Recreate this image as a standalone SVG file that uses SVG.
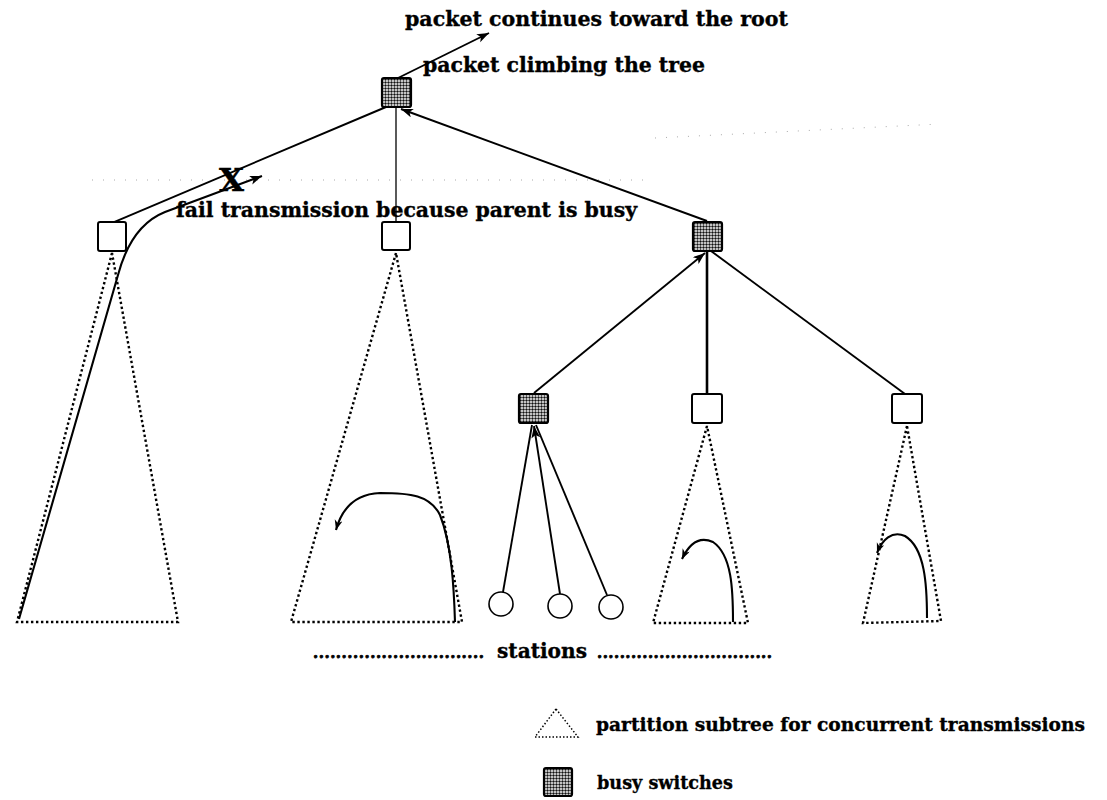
<svg xmlns="http://www.w3.org/2000/svg" width="1107" height="800" viewBox="0 0 1107 800">
  <defs>
    <!-- stippled fill used for busy switches -->
    <pattern id="stipple" width="3" height="3" patternUnits="userSpaceOnUse">
      <rect width="3" height="3" fill="#fff"/>
      <circle cx="1.5" cy="1.5" r="1.2" fill="#111"/>
    </pattern>
    <marker id="head" markerUnits="userSpaceOnUse" markerWidth="14" markerHeight="10" refX="12" refY="4.5" orient="auto">
      <path d="M0,0 L12,4.5 L0,9 L3,4.5 z" fill="#000"/>
    </marker>
    <marker id="headSmall" markerUnits="userSpaceOnUse" markerWidth="12" markerHeight="10" refX="10" refY="4" orient="auto">
      <path d="M0,0 L10,4 L0,8 L3,4 z" fill="#000"/>
    </marker>
  </defs>
  <style>
    .lbl { font-family: "DejaVu Serif", "Liberation Serif", serif; font-weight: bold; fill: #000; stroke: #000; stroke-width: 0.35; }
    .dots { font-family: "DejaVu Serif", "Liberation Serif", serif; font-weight: bold; fill: #000; stroke: #000; stroke-width: 0.8; }
    .sw { fill: #fff; stroke: #000; stroke-width: 2; }
    .busy { fill: url(#stipple); stroke: #000; stroke-width: 2.2; }
    .edge { fill: none; stroke: #000; stroke-width: 1.9; }
    .part { fill: none; stroke: #000; stroke-width: 2.4; stroke-dasharray: 2.4 2.6; }
    .flow { fill: none; stroke: #000; stroke-width: 2.1; }
    .station { fill: #fff; stroke: #000; stroke-width: 1.6; }
    .faint { fill: none; stroke: #aaa; stroke-width: 1; stroke-dasharray: 1 10; }
  </style>
  <rect width="1107" height="800" fill="#fff"/>

  <!-- faint dotted rules -->
  <g id="rules">
    <line class="faint" x1="92" y1="180" x2="650" y2="180"/>
    <line class="faint" x1="655" y1="138" x2="940" y2="124"/>
  </g>

  <!-- partition subtrees -->
  <g id="partitions">
    <polygon class="part" points="112,253 17,622 178,622"/>
    <polygon class="part" points="396,253 291,622 462,622"/>
    <polygon class="part" points="707,426 653,623 748,623"/>
    <polygon class="part" points="907,426 863,623 941,621"/>
  </g>

  <!-- connectors -->
  <g id="connectors">
    <line class="edge" x1="398" y1="78" x2="489" y2="33" marker-end="url(#head)"/>
    <line class="edge" x1="386" y1="107" x2="114" y2="222"/>
    <line class="edge" x1="396" y1="107" x2="396" y2="222" style="stroke-width:1.3"/>
    <line class="edge" x1="707" y1="221" x2="401" y2="109" marker-end="url(#head)"/>
    <line class="edge" x1="534" y1="393" x2="705" y2="253" marker-end="url(#head)"/>
    <line class="edge" x1="707" y1="251" x2="707" y2="394" style="stroke-width:2.6"/>
    <line class="edge" x1="711" y1="251" x2="905" y2="394"/>
    <line class="edge" x1="503" y1="592" x2="532" y2="425"/>
    <line class="edge" x1="560" y1="594" x2="534" y2="426" marker-end="url(#head)"/>
    <line class="edge" x1="607" y1="595" x2="536" y2="425"/>
    <!-- blocked transmission from the left subtree -->
    <path class="flow" d="M19,619 L118,275 C126,245 140,222 165,212 L262,176" marker-end="url(#head)"/>
    <!-- local transmissions inside subtrees -->
    <path class="flow" d="M455,622 C454,590 452,545 440,515 C430,495 410,493 380,493 C355,494 342,508 336,530" marker-end="url(#headSmall)"/>
    <path class="flow" d="M733,622 C733,590 732,555 713,542 C700,536 690,542 682,559" marker-end="url(#headSmall)"/>
    <path class="flow" d="M927,618 C927,585 925,548 905,536 C892,530 882,540 877,553" marker-end="url(#headSmall)"/>
  </g>

  <!-- switches -->
  <g id="root"><rect class="busy" x="382" y="78" width="29" height="29" rx="2"/></g>
  <g id="sw-left"><rect class="sw" x="98" y="222" width="28" height="29" rx="2"/></g>
  <g id="sw-mid"><rect class="sw" x="382" y="222" width="28" height="28" rx="2"/></g>
  <g id="sw-right"><rect class="busy" x="693" y="222" width="29" height="29" rx="2"/></g>
  <g id="sw-a"><rect class="busy" x="519" y="394" width="29" height="29" rx="2"/></g>
  <g id="sw-b"><rect class="sw" x="692" y="394" width="30" height="29" rx="2"/></g>
  <g id="sw-c"><rect class="sw" x="892" y="394" width="30" height="29" rx="2"/></g>

  <!-- stations -->
  <g id="station-1"><circle class="station" cx="501" cy="604" r="12"/></g>
  <g id="station-2"><circle class="station" cx="560" cy="606" r="12"/></g>
  <g id="station-3"><circle class="station" cx="611" cy="607" r="12"/></g>

  <!-- labels -->
  <g id="labels">
    <text class="lbl" x="405" y="26" font-size="20" textLength="383" lengthAdjust="spacingAndGlyphs">packet continues toward the root</text>
    <text class="lbl" x="423" y="72" font-size="20" textLength="282" lengthAdjust="spacingAndGlyphs">packet climbing the tree</text>
    <text class="lbl" x="219" y="191" font-size="32" textLength="25" lengthAdjust="spacingAndGlyphs">X</text>
    <text class="lbl" x="176" y="217" font-size="20" textLength="461" lengthAdjust="spacingAndGlyphs">fail transmission because parent is busy</text>
    <text class="dots" x="313" y="658" font-size="15" textLength="171" lengthAdjust="spacing">..............................</text>
    <text class="lbl" x="497" y="658" font-size="20" textLength="90" lengthAdjust="spacingAndGlyphs">stations</text>
    <text class="dots" x="597" y="658" font-size="15" textLength="175" lengthAdjust="spacing">...............................</text>
  </g>

  <!-- legend -->
  <g id="legend-partition">
    <polygon points="556,709 535,737 578,737" fill="none" stroke="#000" stroke-width="1.5" stroke-dasharray="1.5 2"/>
    <text class="lbl" x="596" y="731" font-size="19" textLength="489" lengthAdjust="spacingAndGlyphs">partition subtree for concurrent transmissions</text>
  </g>
  <g id="legend-busy">
    <rect class="busy" x="544" y="768" width="28" height="28" rx="2"/>
    <text class="lbl" x="597" y="789" font-size="19" textLength="136" lengthAdjust="spacingAndGlyphs">busy switches</text>
  </g>
</svg>
